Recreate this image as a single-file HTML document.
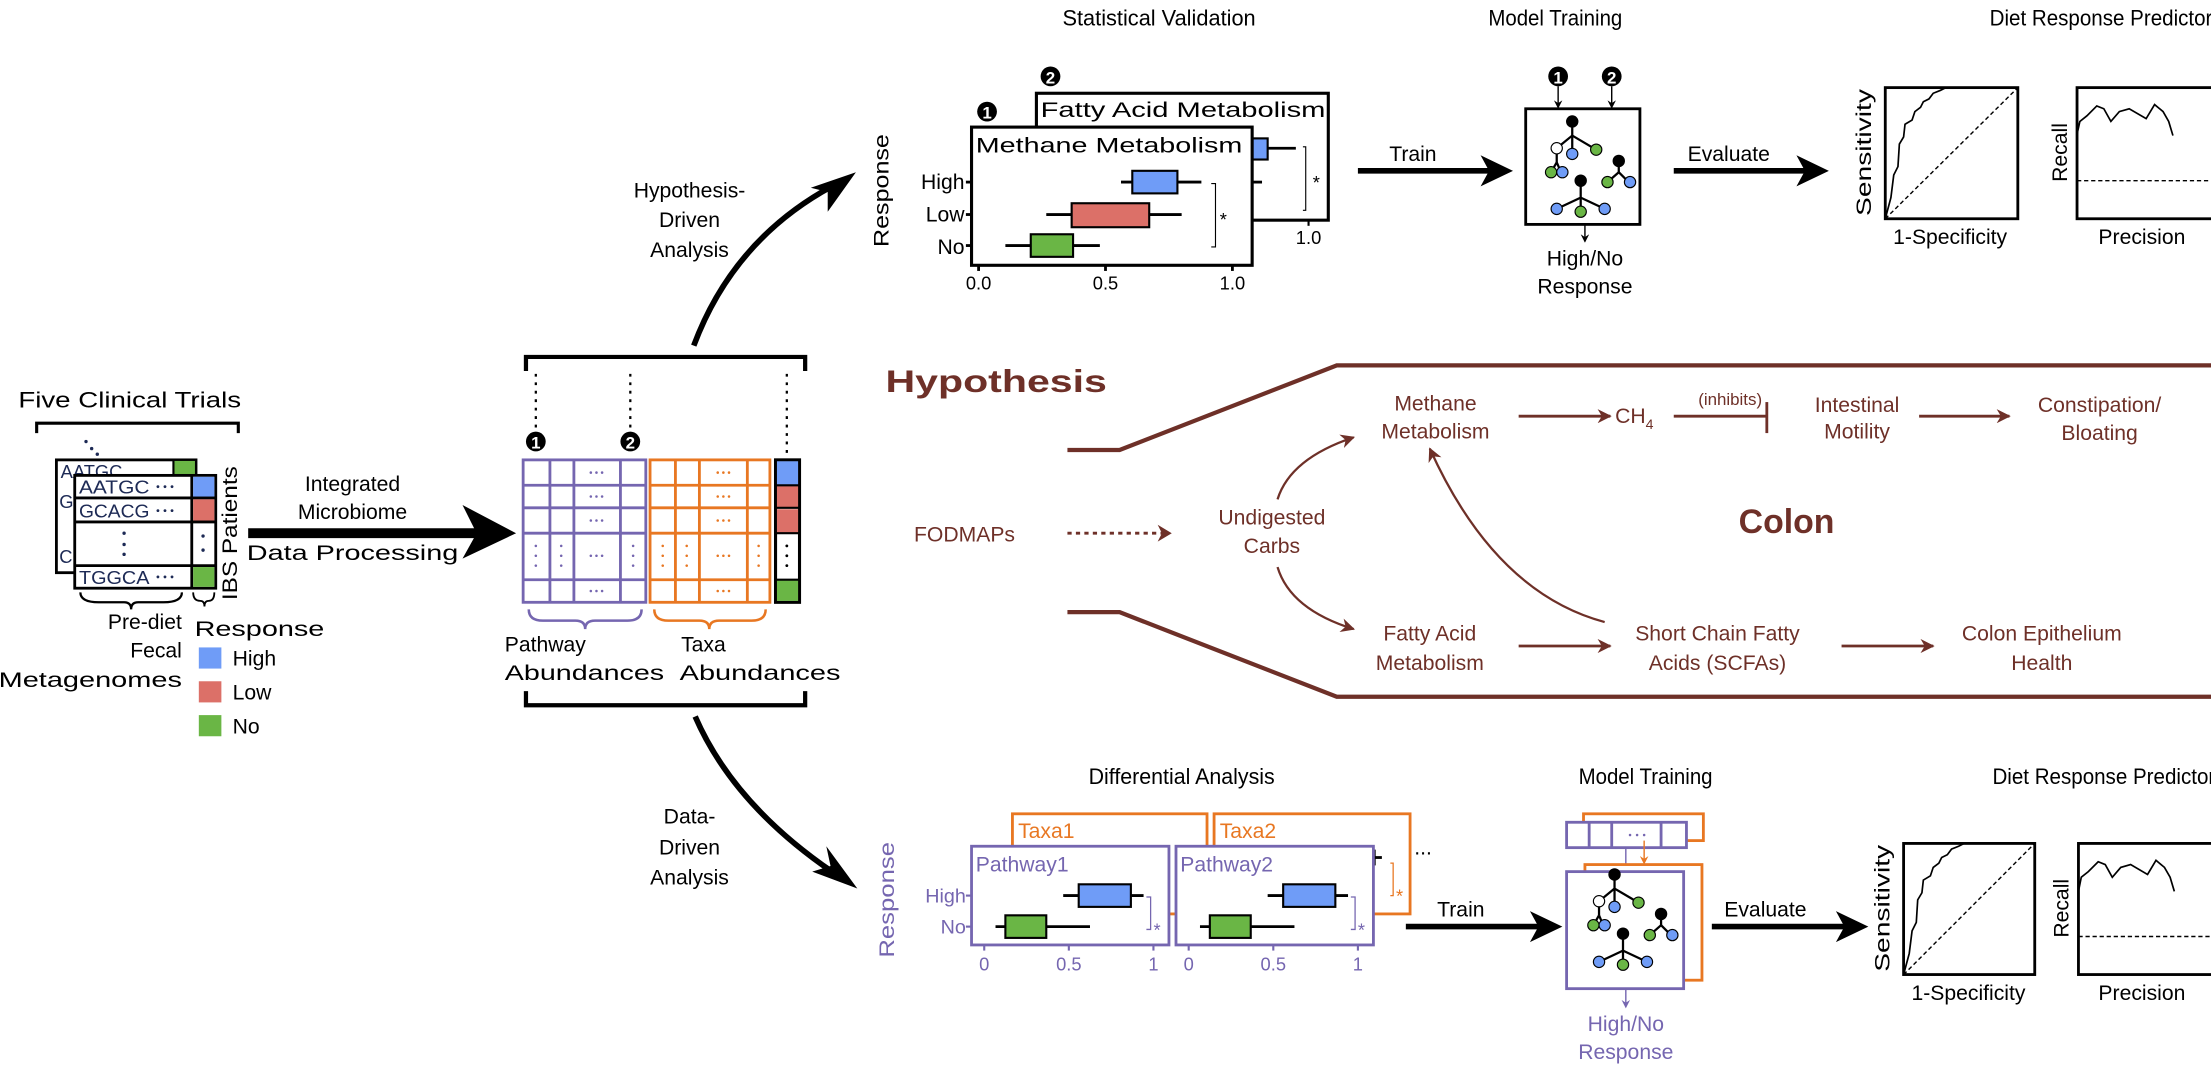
<!DOCTYPE html>
<html><head><meta charset="utf-8"><style>
html,body{margin:0;padding:0;background:#fff;}
svg{display:block;}
text{font-family:"Liberation Sans",sans-serif;}
</style></head><body>
<svg width="2211" height="1065" viewBox="0 0 1568 755" xmlns="http://www.w3.org/2000/svg">
<defs>
<marker id="ab" markerWidth="10" markerHeight="10" refX="9" refY="5" orient="auto" markerUnits="userSpaceOnUse"><path d="M0,0 L10,5 L0,10 L3,5Z" fill="#6e3028"/></marker>
<marker id="sk" markerWidth="6" markerHeight="6" refX="5" refY="3" orient="auto" markerUnits="userSpaceOnUse"><path d="M0,0 L6,3 L0,6 L2,3Z" fill="#000"/></marker>
<marker id="sp" markerWidth="6" markerHeight="6" refX="5" refY="3" orient="auto" markerUnits="userSpaceOnUse"><path d="M0,0 L6,3 L0,6 L2,3Z" fill="#7566b0"/></marker>
<marker id="so" markerWidth="6" markerHeight="6" refX="5" refY="3" orient="auto" markerUnits="userSpaceOnUse"><path d="M0,0 L6,3 L0,6 L2,3Z" fill="#e87722"/></marker>
<g id="trees">
 <g stroke="#000" stroke-width="1.6">
  <line x1="1115" y1="86" x2="1115" y2="96"/><line x1="1115" y1="96" x2="1104" y2="105"/><line x1="1115" y1="96" x2="1115" y2="109"/><line x1="1115" y1="96" x2="1132" y2="106"/>
  <line x1="1104" y1="105" x2="1104" y2="115"/><line x1="1104" y1="115" x2="1100" y2="122"/><line x1="1104" y1="115" x2="1107" y2="122"/>
  <line x1="1148" y1="114" x2="1148" y2="122"/><line x1="1148" y1="122" x2="1140" y2="129"/><line x1="1148" y1="122" x2="1155" y2="129"/>
  <line x1="1121" y1="128" x2="1121" y2="140"/><line x1="1121" y1="140" x2="1104" y2="148"/><line x1="1121" y1="140" x2="1121" y2="150"/><line x1="1121" y1="140" x2="1138" y2="148"/>
 </g>
 <g stroke="#000" stroke-width="0.8">
  <circle cx="1115" cy="86" r="4" fill="#000"/><circle cx="1104" cy="105" r="4" fill="#fff"/><circle cx="1115" cy="109" r="4" fill="#6f9cf7"/><circle cx="1132" cy="106" r="4" fill="#6ab645"/>
  <circle cx="1100" cy="122" r="4" fill="#6ab645"/><circle cx="1108" cy="122" r="4" fill="#6f9cf7"/>
  <circle cx="1148" cy="114" r="4" fill="#000"/><circle cx="1140" cy="129" r="4" fill="#6ab645"/><circle cx="1156" cy="129" r="4" fill="#6f9cf7"/>
  <circle cx="1121" cy="128" r="4" fill="#000"/><circle cx="1104" cy="148" r="4" fill="#6f9cf7"/><circle cx="1121" cy="150" r="4" fill="#6ab645"/><circle cx="1138" cy="148" r="4" fill="#6f9cf7"/>
 </g>
</g>
</defs>

<!-- ============ LEFT ============ -->
<text x="92" y="289" font-size="16" text-anchor="middle" textLength="158" lengthAdjust="spacingAndGlyphs">Five Clinical Trials</text>
<path d="M26,307 V300 H169 V307" fill="none" stroke="#000" stroke-width="2.2"/>
<g fill="#1d2a55"><circle cx="61" cy="313" r="1.2"/><circle cx="65" cy="318" r="1.2"/><circle cx="69" cy="322" r="1.2"/></g>
<rect x="40" y="326" width="99" height="80" fill="#fff" stroke="#000" stroke-width="2"/>
<rect x="123" y="326" width="16" height="11" fill="#6ab645" stroke="#000" stroke-width="1.5"/>
<text x="43" y="339" font-size="13" fill="#1d2a55">AATGC</text>
<text x="42" y="360" font-size="13" fill="#1d2a55">G</text>
<text x="42" y="399" font-size="13" fill="#1d2a55">C</text>
<rect x="53" y="337" width="100" height="80" fill="#fff" stroke="#000" stroke-width="2"/>
<g stroke="#000" stroke-width="2" fill="none">
 <line x1="53" y1="353" x2="153" y2="353"/><line x1="53" y1="370" x2="153" y2="370"/><line x1="53" y1="401" x2="153" y2="401"/><line x1="136" y1="337" x2="136" y2="417"/>
</g>
<rect x="137" y="338" width="15" height="14" fill="#6f9cf7"/>
<rect x="137" y="354" width="15" height="15" fill="#dc7068"/>
<rect x="137" y="402" width="15" height="14" fill="#6ab645"/>
<text x="56" y="350" font-size="13" fill="#1d2a55" textLength="50" lengthAdjust="spacingAndGlyphs">AATGC</text>
<text x="56" y="367" font-size="13" fill="#1d2a55" textLength="50" lengthAdjust="spacingAndGlyphs">GCACG</text>
<text x="56" y="414" font-size="13" fill="#1d2a55" textLength="50" lengthAdjust="spacingAndGlyphs">TGGCA</text>
<g fill="#1d2a55"><circle cx="112" cy="345" r="1"/><circle cx="117" cy="345" r="1"/><circle cx="122" cy="345" r="1"/>
<circle cx="112" cy="362" r="1"/><circle cx="117" cy="362" r="1"/><circle cx="122" cy="362" r="1"/>
<circle cx="112" cy="409" r="1"/><circle cx="117" cy="409" r="1"/><circle cx="122" cy="409" r="1"/>
<circle cx="88" cy="378" r="1.2"/><circle cx="88" cy="386" r="1.2"/><circle cx="88" cy="393" r="1.2"/>
<circle cx="144" cy="380" r="1.2"/><circle cx="144" cy="390" r="1.2"/></g>
<path d="M57,420 Q57,427 70,427 H88 Q93,427 93,432 Q93,427 98,427 H116 Q129,427 129,420" fill="none" stroke="#000" stroke-width="1.6"/>
<path d="M137,420 Q137,426 142,426 Q145,426 145,430 Q145,426 148,426 Q152,426 152,420" fill="none" stroke="#000" stroke-width="1.3"/>
<text transform="translate(168,378) rotate(-90)" font-size="15" text-anchor="middle" textLength="95" lengthAdjust="spacingAndGlyphs">IBS Patients</text>
<g font-size="15" text-anchor="end"><text x="129" y="446">Pre-diet</text><text x="129" y="466">Fecal</text><text x="129" y="487" textLength="130" lengthAdjust="spacingAndGlyphs">Metagenomes</text></g>
<text x="138" y="451" font-size="15" textLength="92" lengthAdjust="spacingAndGlyphs">Response</text>
<rect x="141" y="459" width="16" height="15" fill="#6f9cf7"/><text x="165" y="472" font-size="15">High</text>
<rect x="141" y="483" width="16" height="15" fill="#dc7068"/><text x="165" y="496" font-size="15">Low</text>
<rect x="141" y="507" width="16" height="15" fill="#6ab645"/><text x="165" y="520" font-size="15">No</text>

<!-- main arrow -->
<line x1="176" y1="378" x2="340" y2="378" stroke="#000" stroke-width="7"/>
<path d="M328,358 L366,378 L328,396 L338,378Z" fill="#000"/>
<g font-size="15" text-anchor="middle"><text x="250" y="348">Integrated</text><text x="250" y="368">Microbiome</text><text x="250" y="397" textLength="150" lengthAdjust="spacingAndGlyphs">Data Processing</text></g>

<!-- matrix -->
<path d="M373,263 V253 H571 V263" fill="none" stroke="#000" stroke-width="3"/>
<path d="M373,490 V500 H571 V490" fill="none" stroke="#000" stroke-width="3"/>
<g stroke="#000" stroke-width="1.6" stroke-dasharray="2,4"><line x1="380" y1="265" x2="380" y2="305"/><line x1="447" y1="265" x2="447" y2="305"/><line x1="558" y1="265" x2="558" y2="322"/></g>
<circle cx="380" cy="313" r="7" fill="#000"/><text x="380" y="318" font-size="12" font-weight="bold" fill="#fff" text-anchor="middle">1</text>
<circle cx="447" cy="313" r="7" fill="#000"/><text x="447" y="318" font-size="12" font-weight="bold" fill="#fff" text-anchor="middle">2</text>
<g stroke="#7566b0" stroke-width="2" fill="none">
 <rect x="371" y="326" width="87" height="101"/>
 <line x1="390" y1="326" x2="390" y2="427"/><line x1="407" y1="326" x2="407" y2="427"/><line x1="440" y1="326" x2="440" y2="427"/>
 <line x1="371" y1="344" x2="458" y2="344"/><line x1="371" y1="360" x2="458" y2="360"/><line x1="371" y1="378" x2="458" y2="378"/><line x1="371" y1="411" x2="458" y2="411"/>
 <path d="M375,432 Q375,440 385,440 H408 Q415,440 415,446 Q415,440 422,440 H445 Q455,440 455,432" stroke-width="1.8"/>
</g>
<g stroke="#e87722" stroke-width="2" fill="none">
 <rect x="461" y="326" width="85" height="101"/>
 <line x1="479" y1="326" x2="479" y2="427"/><line x1="496" y1="326" x2="496" y2="427"/><line x1="530" y1="326" x2="530" y2="427"/>
 <line x1="461" y1="344" x2="546" y2="344"/><line x1="461" y1="360" x2="546" y2="360"/><line x1="461" y1="378" x2="546" y2="378"/><line x1="461" y1="411" x2="546" y2="411"/>
 <path d="M464,432 Q464,440 474,440 H496 Q503,440 503,446 Q503,440 510,440 H533 Q543,440 543,432" stroke-width="1.8"/>
</g>
<g fill="#7566b0">
 <circle cx="419" cy="335" r="0.9"/><circle cx="423" cy="335" r="0.9"/><circle cx="427" cy="335" r="0.9"/>
 <circle cx="419" cy="352" r="0.9"/><circle cx="423" cy="352" r="0.9"/><circle cx="427" cy="352" r="0.9"/>
 <circle cx="419" cy="369" r="0.9"/><circle cx="423" cy="369" r="0.9"/><circle cx="427" cy="369" r="0.9"/>
 <circle cx="419" cy="394" r="0.9"/><circle cx="423" cy="394" r="0.9"/><circle cx="427" cy="394" r="0.9"/>
 <circle cx="419" cy="419" r="0.9"/><circle cx="423" cy="419" r="0.9"/><circle cx="427" cy="419" r="0.9"/>
 <circle cx="380" cy="387" r="0.9"/><circle cx="380" cy="394" r="0.9"/><circle cx="380" cy="401" r="0.9"/>
 <circle cx="398" cy="387" r="0.9"/><circle cx="398" cy="394" r="0.9"/><circle cx="398" cy="401" r="0.9"/>
 <circle cx="449" cy="387" r="0.9"/><circle cx="449" cy="394" r="0.9"/><circle cx="449" cy="401" r="0.9"/>
</g>
<g fill="#e87722">
 <circle cx="509" cy="335" r="0.9"/><circle cx="513" cy="335" r="0.9"/><circle cx="517" cy="335" r="0.9"/>
 <circle cx="509" cy="352" r="0.9"/><circle cx="513" cy="352" r="0.9"/><circle cx="517" cy="352" r="0.9"/>
 <circle cx="509" cy="369" r="0.9"/><circle cx="513" cy="369" r="0.9"/><circle cx="517" cy="369" r="0.9"/>
 <circle cx="509" cy="394" r="0.9"/><circle cx="513" cy="394" r="0.9"/><circle cx="517" cy="394" r="0.9"/>
 <circle cx="509" cy="419" r="0.9"/><circle cx="513" cy="419" r="0.9"/><circle cx="517" cy="419" r="0.9"/>
 <circle cx="470" cy="387" r="0.9"/><circle cx="470" cy="394" r="0.9"/><circle cx="470" cy="401" r="0.9"/>
 <circle cx="487" cy="387" r="0.9"/><circle cx="487" cy="394" r="0.9"/><circle cx="487" cy="401" r="0.9"/>
 <circle cx="538" cy="387" r="0.9"/><circle cx="538" cy="394" r="0.9"/><circle cx="538" cy="401" r="0.9"/>
</g>
<rect x="550" y="326" width="17" height="101" fill="#fff" stroke="#000" stroke-width="2.2"/>
<rect x="551" y="327" width="15" height="17" fill="#6f9cf7"/><rect x="551" y="344" width="15" height="16" fill="#dc7068"/><rect x="551" y="361" width="15" height="17" fill="#dc7068"/><rect x="551" y="411" width="15" height="15" fill="#6ab645"/>
<g stroke="#000" stroke-width="1.5"><line x1="550" y1="344" x2="567" y2="344"/><line x1="550" y1="360" x2="567" y2="360"/><line x1="550" y1="378" x2="567" y2="378"/><line x1="550" y1="411" x2="567" y2="411"/></g>
<g fill="#000"><circle cx="558" cy="387" r="1"/><circle cx="558" cy="394" r="1"/><circle cx="558" cy="401" r="1"/></g>
<g font-size="15"><text x="358" y="462">Pathway</text><text x="358" y="482" textLength="113" lengthAdjust="spacingAndGlyphs">Abundances</text>
<text x="483" y="462">Taxa</text><text x="482" y="482" textLength="114" lengthAdjust="spacingAndGlyphs">Abundances</text></g>

<!-- curved arrows -->
<path d="M492,245 Q520,170 590,132" fill="none" stroke="#000" stroke-width="4"/>
<path d="M607,122 L575,133 L587,136 L587,150Z" fill="#000"/>
<g font-size="15" text-anchor="middle"><text x="489" y="140">Hypothesis-</text><text x="489" y="161">Driven</text><text x="489" y="182">Analysis</text></g>
<path d="M493,508 Q520,570 590,618" fill="none" stroke="#000" stroke-width="4"/>
<path d="M608,630 L576,618 L589,614 L586,600Z" fill="#000"/>
<g font-size="15" text-anchor="middle"><text x="489" y="584">Data-</text><text x="489" y="606">Driven</text><text x="489" y="627">Analysis</text></g>

<!-- ============ TOP: statistical validation ============ -->
<text x="822" y="18" font-size="16" text-anchor="middle" textLength="137" lengthAdjust="spacingAndGlyphs">Statistical Validation</text>
<text x="630" y="135" font-size="15" text-anchor="middle" transform="rotate(-90 630 135)" textLength="80" lengthAdjust="spacingAndGlyphs">Response</text>
<rect x="735" y="66" width="207" height="90" fill="#fff" stroke="#000" stroke-width="2.2"/>
<text x="738" y="83" font-size="15" textLength="202" lengthAdjust="spacingAndGlyphs">Fatty Acid Metabolism</text>
<circle cx="745" cy="54" r="7" fill="#000"/><text x="745" y="59" font-size="12" font-weight="bold" fill="#fff" text-anchor="middle">2</text>
<line x1="888" y1="129" x2="895" y2="129" stroke="#000" stroke-width="2"/>
<line x1="899" y1="105" x2="919" y2="105" stroke="#000" stroke-width="2"/>
<rect x="888" y="98" width="11" height="15" fill="#6f9cf7" stroke="#000" stroke-width="1.5"/>
<path d="M924,104 H926 V149 H924" fill="none" stroke="#000" stroke-width="0.8"/><text x="931" y="134" font-size="13">*</text>
<line x1="928" y1="156" x2="928" y2="160" stroke="#000" stroke-width="1.5"/>
<text x="928" y="173" font-size="13" text-anchor="middle">1.0</text>
<rect x="689" y="90" width="199" height="98" fill="#fff" stroke="#000" stroke-width="2.2"/>
<text x="692" y="108" font-size="15" textLength="189" lengthAdjust="spacingAndGlyphs">Methane Metabolism</text>
<circle cx="700" cy="79" r="7" fill="#000"/><text x="700" y="84" font-size="12" font-weight="bold" fill="#fff" text-anchor="middle">1</text>
<g stroke="#000" stroke-width="2">
 <line x1="795" y1="129" x2="852" y2="129"/><line x1="742" y1="152" x2="838" y2="152"/><line x1="713" y1="174" x2="780" y2="174"/>
 <line x1="685" y1="129" x2="689" y2="129"/><line x1="685" y1="152" x2="689" y2="152"/><line x1="685" y1="174" x2="689" y2="174"/>
 <line x1="694" y1="188" x2="694" y2="192"/><line x1="784" y1="188" x2="784" y2="192"/><line x1="874" y1="188" x2="874" y2="192"/>
</g>
<rect x="803" y="121" width="32" height="16" fill="#6f9cf7" stroke="#000" stroke-width="1.5"/>
<rect x="760" y="144" width="55" height="17" fill="#dc7068" stroke="#000" stroke-width="1.5"/>
<rect x="731" y="166" width="30" height="16" fill="#6ab645" stroke="#000" stroke-width="1.5"/>
<g font-size="15" text-anchor="end"><text x="684" y="134">High</text><text x="684" y="157">Low</text><text x="684" y="180">No</text></g>
<path d="M859,130 H862 V175 H859" fill="none" stroke="#000" stroke-width="0.8"/><text x="865" y="160" font-size="13">*</text>
<g font-size="13" text-anchor="middle"><text x="694" y="205">0.0</text><text x="784" y="205">0.5</text><text x="874" y="205">1.0</text></g>

<!-- train -->
<text x="1002" y="114" font-size="15" text-anchor="middle">Train</text>
<line x1="963" y1="121" x2="1058" y2="121" stroke="#000" stroke-width="4"/>
<path d="M1073,121 L1050,110 L1056,121 L1050,132Z" fill="#000"/>
<text x="1103" y="18" font-size="16" text-anchor="middle" textLength="95" lengthAdjust="spacingAndGlyphs">Model Training</text>
<circle cx="1105" cy="54" r="7" fill="#000"/><text x="1105" y="59" font-size="12" font-weight="bold" fill="#fff" text-anchor="middle">1</text>
<circle cx="1143" cy="54" r="7" fill="#000"/><text x="1143" y="59" font-size="12" font-weight="bold" fill="#fff" text-anchor="middle">2</text>
<line x1="1105" y1="61" x2="1105" y2="76" stroke="#000" stroke-width="1" marker-end="url(#sk)"/>
<line x1="1143" y1="61" x2="1143" y2="76" stroke="#000" stroke-width="1" marker-end="url(#sk)"/>
<rect x="1082" y="77" width="81" height="82" fill="#fff" stroke="#000" stroke-width="2"/>
<use href="#trees"/>
<line x1="1124" y1="159" x2="1124" y2="171" stroke="#000" stroke-width="1" marker-end="url(#sk)"/>
<g font-size="15" text-anchor="middle"><text x="1124" y="188">High/No</text><text x="1124" y="208">Response</text></g>
<text x="1226" y="114" font-size="15" text-anchor="middle">Evaluate</text>
<line x1="1187" y1="121" x2="1282" y2="121" stroke="#000" stroke-width="4"/>
<path d="M1297,121 L1274,110 L1280,121 L1274,132Z" fill="#000"/>
<text x="1490" y="18" font-size="16" text-anchor="middle" textLength="158" lengthAdjust="spacingAndGlyphs">Diet Response Predictor</text>
<!-- ROC top -->
<rect x="1337" y="62" width="94" height="93" fill="#fff" stroke="#000" stroke-width="2"/>
<line x1="1337" y1="155" x2="1431" y2="62" stroke="#000" stroke-width="1" stroke-dasharray="3,2"/>
<path d="M1337,155 L1341,140 L1343,124 L1346,118 L1347,102 L1350,97 L1351,88 L1356,85 L1358,79 L1362,76 L1364,72 L1368,70 L1371,66 L1376,64 L1380,62 L1431,62" fill="none" stroke="#000" stroke-width="1.2"/>
<text x="1327" y="108" font-size="15" text-anchor="middle" transform="rotate(-90 1327 108)" textLength="90" lengthAdjust="spacingAndGlyphs">Sensitivity</text>
<text x="1383" y="173" font-size="15" text-anchor="middle">1-Specificity</text>
<rect x="1473" y="62" width="100" height="93" fill="#fff" stroke="#000" stroke-width="2"/>
<line x1="1473" y1="128" x2="1568" y2="128" stroke="#000" stroke-width="1" stroke-dasharray="3,2"/>
<path d="M1473,95 L1475,86 L1480,82 L1487,75 L1492,77 L1497,86 L1503,79 L1510,77 L1522,84 L1528,74 L1534,79 L1538,86 L1541,96" fill="none" stroke="#000" stroke-width="1.2"/>
<text x="1466" y="108" font-size="15" text-anchor="middle" transform="rotate(-90 1466 108)">Recall</text>
<text x="1519" y="173" font-size="15" text-anchor="middle">Precision</text>

<!-- ============ HYPOTHESIS ============ -->
<g fill="none" stroke="#6e3028" stroke-width="3">
 <path d="M757,319 H794 L948,259 H1568"/>
 <path d="M757,434 H794 L948,494 H1568"/>
</g>
<text x="628" y="278" font-size="22" font-weight="bold" fill="#6e3028" textLength="157" lengthAdjust="spacingAndGlyphs">Hypothesis</text>
<text x="1267" y="378" font-size="24" font-weight="bold" fill="#6e3028" text-anchor="middle">Colon</text>
<g font-size="15" fill="#6e3028" text-anchor="middle">
 <text x="1018" y="291">Methane</text><text x="1018" y="311">Metabolism</text>
 <text x="1159" y="300">CH<tspan font-size="10" dy="4">4</tspan></text>
 <text x="1227" y="287" font-size="12">(inhibits)</text>
 <text x="1317" y="292">Intestinal</text><text x="1317" y="311">Motility</text>
 <text x="1489" y="292">Constipation/</text><text x="1489" y="312">Bloating</text>
 <text x="684" y="384">FODMAPs</text>
 <text x="902" y="372">Undigested</text><text x="902" y="392">Carbs</text>
 <text x="1014" y="454">Fatty Acid</text><text x="1014" y="475">Metabolism</text>
 <text x="1218" y="454">Short Chain Fatty</text><text x="1218" y="475">Acids (SCFAs)</text>
 <text x="1448" y="454">Colon Epithelium</text><text x="1448" y="475">Health</text>
</g>
<g stroke="#6e3028" stroke-width="2" fill="none">
 <line x1="1077" y1="295" x2="1142" y2="295" marker-end="url(#ab)"/>
 <line x1="1187" y1="295" x2="1253" y2="295"/><line x1="1253" y1="285" x2="1253" y2="307"/>
 <line x1="1361" y1="295" x2="1425" y2="295" marker-end="url(#ab)"/>
 <line x1="757" y1="378" x2="829" y2="378" stroke-dasharray="3,3"/>
 <path d="M906,354 Q915,325 960,310" marker-end="url(#ab)" stroke-width="1.6"/>
 <path d="M906,402 Q915,432 960,446" marker-end="url(#ab)" stroke-width="1.6"/>
 <path d="M1138,441 Q1060,420 1014,318" marker-end="url(#ab)" stroke-width="1.6"/>
 <line x1="1077" y1="458" x2="1142" y2="458" marker-end="url(#ab)"/>
 <line x1="1306" y1="458" x2="1371" y2="458" marker-end="url(#ab)"/>
</g>
<path d="M831,378 L821,372 L824,378 L821,384Z" fill="#6e3028"/>

<!-- ============ BOTTOM ============ -->
<text x="838" y="556" font-size="16" text-anchor="middle" textLength="132" lengthAdjust="spacingAndGlyphs">Differential Analysis</text>
<text x="634" y="638" font-size="15" fill="#7566b0" text-anchor="middle" transform="rotate(-90 634 638)" textLength="82" lengthAdjust="spacingAndGlyphs">Response</text>
<rect x="718" y="577" width="138" height="71" fill="#fff" stroke="#e87722" stroke-width="2"/>
<text x="722" y="594" font-size="15" fill="#e87722">Taxa1</text>
<rect x="861" y="577" width="139" height="71" fill="#fff" stroke="#e87722" stroke-width="2"/>
<text x="865" y="594" font-size="15" fill="#e87722">Taxa2</text>
<rect x="968" y="603" width="7" height="10" fill="#6f9cf7" stroke="#000" stroke-width="1.2"/><line x1="975" y1="608" x2="980" y2="608" stroke="#000" stroke-width="2"/>
<path d="M986,612 H988 V635 H986" fill="none" stroke="#e87722" stroke-width="0.9"/><text x="990" y="640" font-size="13" fill="#e87722">*</text>
<text x="1003" y="606" font-size="15">...</text>
<rect x="689" y="600" width="140" height="70" fill="#fff" stroke="#7566b0" stroke-width="2"/>
<text x="692" y="618" font-size="15" fill="#7566b0">Pathway1</text>
<g stroke="#000" stroke-width="2"><line x1="754" y1="635" x2="811" y2="635"/><line x1="706" y1="657" x2="773" y2="657"/></g>
<rect x="765" y="627" width="37" height="16" fill="#6f9cf7" stroke="#000" stroke-width="1.5"/>
<rect x="713" y="649" width="29" height="16" fill="#6ab645" stroke="#000" stroke-width="1.5"/>
<path d="M813,636 H816 V659 H813" fill="none" stroke="#7566b0" stroke-width="0.9"/><text x="818" y="664" font-size="13" fill="#7566b0">*</text>
<g stroke="#7566b0" stroke-width="1.5"><line x1="698" y1="670" x2="698" y2="674"/><line x1="758" y1="670" x2="758" y2="674"/><line x1="818" y1="670" x2="818" y2="674"/><line x1="685" y1="635" x2="689" y2="635"/><line x1="685" y1="657" x2="689" y2="657"/></g>
<g font-size="14" fill="#7566b0" text-anchor="end"><text x="685" y="640">High</text><text x="685" y="662">No</text></g>
<g font-size="13" fill="#7566b0" text-anchor="middle"><text x="698" y="688">0</text><text x="758" y="688">0.5</text><text x="818" y="688">1</text></g>
<rect x="834" y="600" width="140" height="70" fill="#fff" stroke="#7566b0" stroke-width="2"/>
<text x="837" y="618" font-size="15" fill="#7566b0">Pathway2</text>
<g stroke="#000" stroke-width="2"><line x1="899" y1="635" x2="956" y2="635"/><line x1="851" y1="657" x2="918" y2="657"/></g>
<rect x="910" y="627" width="37" height="16" fill="#6f9cf7" stroke="#000" stroke-width="1.5"/>
<rect x="858" y="649" width="29" height="16" fill="#6ab645" stroke="#000" stroke-width="1.5"/>
<path d="M958,636 H961 V659 H958" fill="none" stroke="#7566b0" stroke-width="0.9"/><text x="963" y="664" font-size="13" fill="#7566b0">*</text>
<g stroke="#7566b0" stroke-width="1.5"><line x1="843" y1="670" x2="843" y2="674"/><line x1="903" y1="670" x2="903" y2="674"/><line x1="963" y1="670" x2="963" y2="674"/></g>
<g font-size="13" fill="#7566b0" text-anchor="middle"><text x="843" y="688">0</text><text x="903" y="688">0.5</text><text x="963" y="688">1</text></g>
<text x="1036" y="650" font-size="15" text-anchor="middle">Train</text>
<line x1="997" y1="657" x2="1092" y2="657" stroke="#000" stroke-width="4"/>
<path d="M1108,657 L1085,646 L1091,657 L1085,668Z" fill="#000"/>
<text x="1167" y="556" font-size="16" text-anchor="middle" textLength="95" lengthAdjust="spacingAndGlyphs">Model Training</text>
<rect x="1123" y="577" width="85" height="19" fill="#fff" stroke="#e87722" stroke-width="2"/>
<rect x="1111" y="583" width="85" height="18" fill="#fff" stroke="#7566b0" stroke-width="2"/>
<g stroke="#7566b0" stroke-width="2"><line x1="1127" y1="583" x2="1127" y2="601"/><line x1="1143" y1="583" x2="1143" y2="601"/><line x1="1178" y1="583" x2="1178" y2="601"/></g>
<g fill="#7566b0"><circle cx="1156" cy="592" r="0.9"/><circle cx="1161" cy="592" r="0.9"/><circle cx="1166" cy="592" r="0.9"/></g>
<line x1="1153" y1="601" x2="1153" y2="617" stroke="#7566b0" stroke-width="1" marker-end="url(#sp)"/>
<line x1="1166" y1="596" x2="1166" y2="612" stroke="#e87722" stroke-width="1" marker-end="url(#so)"/>
<rect x="1124" y="613" width="83" height="82" fill="#fff" stroke="#e87722" stroke-width="2"/>
<rect x="1111" y="618" width="83" height="83" fill="#fff" stroke="#7566b0" stroke-width="2"/>
<g transform="translate(30,534)"><use href="#trees"/></g>
<line x1="1153" y1="701" x2="1153" y2="714" stroke="#7566b0" stroke-width="1" marker-end="url(#sp)"/>
<g font-size="15" fill="#7566b0" text-anchor="middle"><text x="1153" y="731">High/No</text><text x="1153" y="751">Response</text></g>
<text x="1252" y="650" font-size="15" text-anchor="middle">Evaluate</text>
<line x1="1214" y1="657" x2="1309" y2="657" stroke="#000" stroke-width="4"/>
<path d="M1325,657 L1302,646 L1308,657 L1302,668Z" fill="#000"/>
<text x="1492" y="556" font-size="16" text-anchor="middle" textLength="158" lengthAdjust="spacingAndGlyphs">Diet Response Predictor</text>
<rect x="1350" y="598" width="93" height="93" fill="#fff" stroke="#000" stroke-width="2"/>
<line x1="1350" y1="691" x2="1443" y2="598" stroke="#000" stroke-width="1" stroke-dasharray="3,2"/>
<path d="M1350,691 L1354,676 L1356,660 L1359,654 L1360,638 L1363,633 L1364,624 L1369,621 L1371,615 L1375,612 L1377,608 L1381,606 L1384,602 L1389,600 L1393,598 L1443,598" fill="none" stroke="#000" stroke-width="1.2"/>
<text x="1340" y="644" font-size="15" text-anchor="middle" transform="rotate(-90 1340 644)" textLength="90" lengthAdjust="spacingAndGlyphs">Sensitivity</text>
<text x="1396" y="709" font-size="15" text-anchor="middle">1-Specificity</text>
<rect x="1474" y="598" width="100" height="93" fill="#fff" stroke="#000" stroke-width="2"/>
<line x1="1474" y1="664" x2="1568" y2="664" stroke="#000" stroke-width="1" stroke-dasharray="3,2"/>
<path d="M1474,632 L1476,622 L1481,618 L1488,611 L1493,613 L1498,622 L1504,615 L1511,613 L1523,620 L1529,610 L1535,615 L1539,622 L1542,632" fill="none" stroke="#000" stroke-width="1.2"/>
<text x="1467" y="644" font-size="15" text-anchor="middle" transform="rotate(-90 1467 644)">Recall</text>
<text x="1519" y="709" font-size="15" text-anchor="middle">Precision</text>
</svg>
</body></html>
